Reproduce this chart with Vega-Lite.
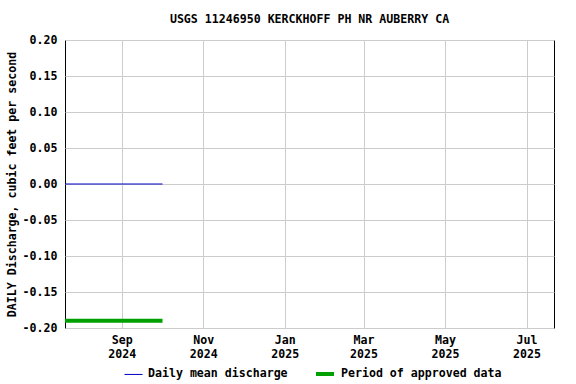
{
  "$schema": "https://vega.github.io/schema/vega-lite/v6.json",
  "autosize": "none",
  "width": 489,
  "height": 288,
  "padding": {"left": 65, "top": 40, "right": 22, "bottom": 56},
  "background": "white",
  "title": {
    "text": "USGS 11246950 KERCKHOFF PH NR AUBERRY CA",
    "font": "DejaVu Sans Mono",
    "fontSize": 11.6,
    "fontWeight": "bold",
    "color": "black",
    "anchor": "middle",
    "offset": 8
  },
  "config": {
    "view": {"stroke": "black", "strokeWidth": 1},
    "font": "DejaVu Sans Mono"
  },
  "data": {
    "values": [
      {"date": "2024-07-20T12:00:00", "value": 0, "series": "Daily mean discharge"},
      {"date": "2024-10-01T12:00:00", "value": 0, "series": "Daily mean discharge"},
      {"date": "2024-07-20T12:00:00", "value": -0.19, "series": "Period of approved data"},
      {"date": "2024-10-01T12:00:00", "value": -0.19, "series": "Period of approved data"}
    ]
  },
  "mark": {"type": "line", "clip": false, "strokeCap": "butt"},
  "encoding": {
    "x": {
      "field": "date",
      "type": "temporal",
      "scale": {
        "domain": [
          {"year": 2024, "month": 7, "date": 20, "hours": 12},
          {"year": 2025, "month": 7, "date": 21, "hours": 14}
        ]
      },
      "axis": {
        "title": null,
        "values": [
          {"year": 2024, "month": 9, "date": 1},
          {"year": 2024, "month": 11, "date": 1},
          {"year": 2025, "month": 1, "date": 1},
          {"year": 2025, "month": 3, "date": 1},
          {"year": 2025, "month": 5, "date": 1},
          {"year": 2025, "month": 7, "date": 1}
        ],
        "labelExpr": "[timeFormat(datum.value, '%b'), timeFormat(datum.value, '%Y')]",
        "labelLineHeight": 14,
        "labelFont": "DejaVu Sans Mono",
        "labelFontSize": 11.6,
        "labelFontWeight": "bold",
        "labelColor": "black",
        "labelPadding": 6,
        "labelFlush": false,
        "labelOverlap": false,
        "ticks": false,
        "domain": false,
        "grid": true,
        "gridColor": "#cccccc",
        "gridWidth": 1
      }
    },
    "y": {
      "field": "value",
      "type": "quantitative",
      "scale": {"domain": [-0.2, 0.2], "nice": false, "zero": false},
      "axis": {
        "title": "DAILY Discharge, cubic feet per second",
        "titleFont": "DejaVu Sans Mono",
        "titleFontSize": 11.6,
        "titleFontWeight": "bold",
        "titleColor": "black",
        "titlePadding": 5,
        "values": [-0.2, -0.15, -0.1, -0.05, 0, 0.05, 0.1, 0.15, 0.2],
        "labelExpr": "replace(format(datum.value, '.2f'), '−', '-')",
        "labelFont": "DejaVu Sans Mono",
        "labelFontSize": 11.6,
        "labelFontWeight": "bold",
        "labelColor": "black",
        "labelPadding": 8,
        "labelFlush": false,
        "labelOverlap": false,
        "ticks": false,
        "domain": false,
        "grid": true,
        "gridColor": "#cccccc",
        "gridWidth": 1
      }
    },
    "color": {
      "field": "series",
      "type": "nominal",
      "scale": {
        "domain": ["Daily mean discharge", "Period of approved data"],
        "range": ["#0000c8", "#00a000"]
      },
      "legend": {
        "title": null,
        "orient": "none",
        "direction": "horizontal",
        "legendX": 59,
        "legendY": 323,
        "symbolType": "stroke",
        "symbolSize": 324,
        "labelFont": "DejaVu Sans Mono",
        "labelFontSize": 11.6,
        "labelFontWeight": "bold",
        "labelColor": "black",
        "labelOffset": 5,
        "columnPadding": 20,
        "labelLimit": 300
      }
    },
    "strokeWidth": {
      "field": "series",
      "type": "nominal",
      "scale": {
        "domain": ["Daily mean discharge", "Period of approved data"],
        "range": [1, 4]
      },
      "legend": {
        "title": null,
        "orient": "none",
        "direction": "horizontal",
        "legendX": 59,
        "legendY": 323,
        "symbolType": "stroke",
        "symbolSize": 324,
        "labelFont": "DejaVu Sans Mono",
        "labelFontSize": 11.6,
        "labelFontWeight": "bold",
        "labelColor": "black",
        "labelOffset": 5,
        "columnPadding": 20,
        "labelLimit": 300
      }
    }
  }
}
